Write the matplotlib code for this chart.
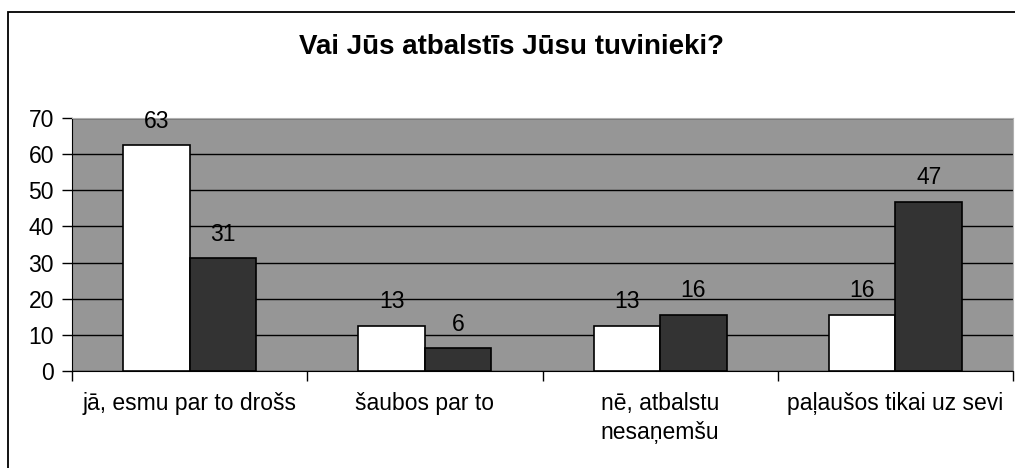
import matplotlib.pyplot as plt
import numpy as np
from matplotlib.patches import Rectangle

plt.rcParams['font.family'] = ['Liberation Sans', 'DejaVu Sans']

categories = ["jā, esmu par to drošs", "šaubos par to",
              "nē, atbalstu\nnesaņemšu", "paļaušos tikai uz sevi"]
series_a = [62.5, 12.5, 12.5, 15.63]
series_b = [31.25, 6.25, 15.63, 46.88]
labels_a = ["63", "13", "13", "16"]
labels_b = ["31", "6", "16", "47"]
yticks = [0, 10, 20, 30, 40, 50, 60, 70]

fig = plt.figure(figsize=(10.15, 4.68), dpi=100)
# outer chart border
fig.patches.append(Rectangle((8 / 1015, -0.05), 1.1, (468 - 12) / 468 + 0.05,
                             transform=fig.transFigure, fill=False,
                             edgecolor='black', linewidth=1.3))

ax = fig.add_axes([72 / 1015, (468 - 371) / 468, 941 / 1015, 253 / 468])
ax.set_facecolor('#969696')

x = np.arange(len(categories))
w = 0.283
bars_a = ax.bar(x - w / 2, series_a, w, color='white', edgecolor='black', linewidth=1.2, zorder=3)
bars_b = ax.bar(x + w / 2, series_b, w, color='#333333', edgecolor='black', linewidth=1.2, zorder=3)

for b, t in zip(bars_a, labels_a):
    ax.annotate(t, (b.get_x() + b.get_width() / 2, b.get_height()), xytext=(0, 9),
                textcoords='offset points', ha='center', va='bottom', fontsize=16.5, zorder=4)
for b, t in zip(bars_b, labels_b):
    ax.annotate(t, (b.get_x() + b.get_width() / 2, b.get_height()), xytext=(0, 9),
                textcoords='offset points', ha='center', va='bottom', fontsize=16.5, zorder=4)

ax.set_xlim(-0.5, len(categories) - 0.5)
ax.set_ylim(0, 70)
ax.set_yticks(yticks)
ax.yaxis.grid(True, color='black', linewidth=1.0, zorder=1)
ax.set_axisbelow(True)
ax.tick_params(axis='y', direction='out', length=7, width=1, labelsize=16.5, pad=6)

ax.set_xticks(np.arange(len(categories) + 1) - 0.5)
ax.set_xticklabels([])
ax.tick_params(axis='x', which='major', direction='out', length=7, width=1)
ax.set_xticks(x, minor=True)
ax.set_xticklabels(categories, minor=True, linespacing=1.35)
ax.tick_params(axis='x', which='minor', length=0, labelsize=16.5, pad=15)

for s in ['top', 'right']:
    ax.spines[s].set_color('#b0b0b0')
for s in ['left', 'bottom']:
    ax.spines[s].set_color('black')

fig.text(512 / 1015, 1 - 47 / 468, "Vai Jūs atbalstīs Jūsu tuvinieki?",
         ha='center', va='center', fontsize=20, fontweight='bold')

fig.savefig('out.png', dpi=100)
